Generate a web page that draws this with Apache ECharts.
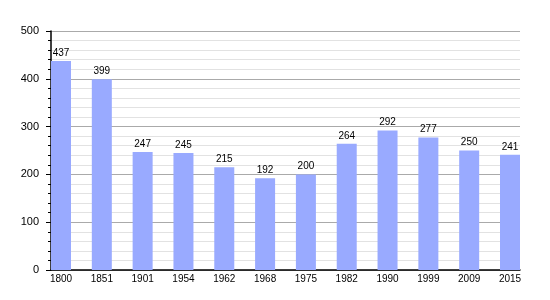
<!DOCTYPE html>
<html><head><meta charset="utf-8">
<script src="https://cdn.jsdelivr.net/npm/echarts@6/dist/echarts.min.js"></script>
<style>html,body{margin:0;padding:0;background:#fff}#c{width:550px;height:300px}</style>
</head><body><div id="c"></div>
<script>
var categories = ['1800','1851','1901','1954','1962','1968','1975','1982','1990','1999','2009','2015'];
var population = [437,399,247,245,215,192,200,264,292,277,250,241];
var yTicks = [0,100,200,300,400,500];

var font = 'Liberation Sans, Arial, sans-serif';
var chart = echarts.init(document.getElementById('c'), null, {renderer:'canvas'});
chart.setOption({
  animation:false,
  grid:[
    {left:51, right:30, top:31, bottom:30},
    {left:61, right:40, top:31, bottom:30}
  ],
  xAxis:[
    {gridIndex:0, type:'category', data:categories, axisLine:{lineStyle:{color:'#000',width:1.5}}, axisTick:{show:false}, axisLabel:{show:false}, splitLine:{show:false}},
    {gridIndex:1, type:'category', data:categories, boundaryGap:false, axisLine:{show:false}, axisTick:{show:false},
     axisLabel:{color:'#000', fontSize:10, fontFamily:font, margin:4}}
  ],
  yAxis:[
    {gridIndex:0, type:'value', min:yTicks[0], max:yTicks[yTicks.length-1], interval:100,
     axisLine:{show:true, lineStyle:{color:'#000',width:1.5}},
     axisTick:{show:true, length:5, lineStyle:{color:'#000'}},
     minorTick:{show:true, splitNumber:5, length:3, lineStyle:{color:'#000'}},
     splitLine:{show:true, lineStyle:{color:'#aaaaaa', width:1}},
     minorSplitLine:{show:true, lineStyle:{color:'#e2e2e2', width:1}},
     axisLabel:{color:'#000', fontSize:11, fontFamily:font, margin:12}},
    {gridIndex:1, type:'value', min:yTicks[0], max:yTicks[yTicks.length-1], show:false, splitLine:{show:false}}
  ],
  series:[{
    type:'bar', xAxisIndex:1, yAxisIndex:1, data:population, barWidth:20,
    itemStyle:{color:'#99aaff'},
    label:{show:true, position:'top', distance:3, color:'#000', fontSize:10, fontFamily:font}
  }]
});
</script></body></html>
